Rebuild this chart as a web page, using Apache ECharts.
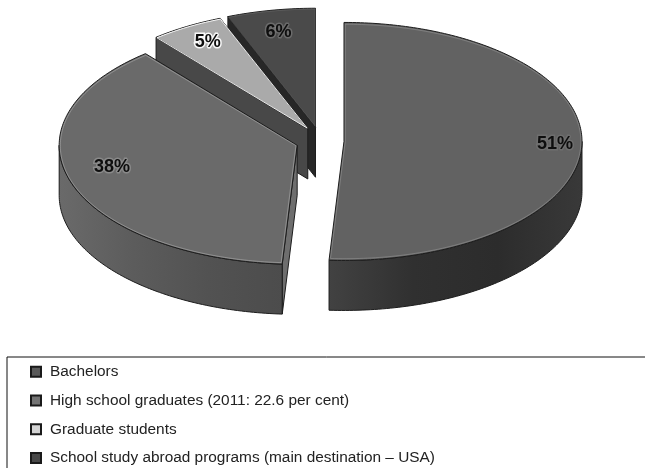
<!DOCTYPE html>
<html>
<head>
<meta charset="utf-8">
<style>html,body{margin:0;padding:0;background:#fff}#chart{width:645px;height:468px}</style>
<script src="https://cdn.jsdelivr.net/npm/echarts@6/dist/echarts.min.js"></script>
</head>
<body>
<div id="chart"></div>
<script>
// Composition of students, in per cent, clockwise from twelve o'clock.
const categories = [
  'Bachelors',
  'High school graduates (2011: 22.6 per cent)',
  'Graduate students',
  'School study abroad programs (main destination – USA)'
];
const shares = [51, 38, 5, 6];

// Appearance of each slice, in the same order as the categories.
const topFill = ['#626262', '#6a6a6a', '#aaaaaa', '#4a4a4a'];
const cutFill = ['#3a3a3a', '#6e6e6e', '#484848', '#272727'];
const wallStops = [
  ['#424242', '#303030', '#2c2c2c', '#393939'],
  ['#6a6a6a', '#5c5c5c', '#525252', '#4c4c4c'],
  ['#555555', '#555555', '#555555', '#555555'],
  ['#333333', '#333333', '#333333', '#333333']
];
const rimColor = ['rgba(170,170,170,.4)', 'rgba(190,190,190,.45)', 'rgba(255,255,255,.9)', 'rgba(130,130,130,.35)'];
const haloColor = ['rgba(130,130,130,.4)', 'rgba(170,170,170,.5)', 'rgba(255,255,255,.9)', 'rgba(140,140,140,.5)'];
const swatchFill = ['#5a5a5a', '#747474', '#d4d4d4', '#484848'];
const labelRadius = [0.887, 0.818, 0.825, 0.83];
const labelLift = [-1, -8, -2, 2];

// Projection of the tilted disc.
const disc = { cx: 320, cy: 141, rx: 238, ry: 119, depth: 50, pullX: 24, pullY: 14 };
const total = shares.reduce((a, b) => a + b, 0);

function sliceAngles(index) {
  const before = shares.slice(0, index).reduce((a, b) => a + b, 0);
  return [before / total * Math.PI * 2, (before + shares[index]) / total * Math.PI * 2];
}

function renderSlice(index) {
  return function (params, api) {
    const value = api.value(0);
    const [a0, a1] = sliceAngles(index);
    const mid = (a0 + a1) / 2;
    const ox = disc.cx + disc.pullX * Math.sin(mid);
    const oy = disc.cy - disc.pullY * Math.cos(mid);
    const at = (a, k) => [ox + disc.rx * k * Math.sin(a), oy - disc.ry * k * Math.cos(a)];
    const sample = (from, to) => {
      const pts = [];
      const steps = Math.max(8, Math.ceil((to - from) / (Math.PI / 180)));
      for (let i = 0; i <= steps; i++) pts.push(at(from + (to - from) * i / steps, 1));
      return pts;
    };

    const arc = sample(a0, a1);
    const down = p => [p[0], p[1] + disc.depth];
    const apex = [ox, oy];
    const first = arc[0];
    const last = arc[arc.length - 1];
    const wedge = [apex].concat(arc);

    // Slightly smaller copy of the top face, stroked as its bright bevel.
    const c = at(mid, 0.55);
    const inner = wedge.map(p => [c[0] + (p[0] - c[0]) * 0.99, c[1] + (p[1] - c[1]) * 0.985]);

    const edge = { stroke: '#1d1d1d', lineWidth: 1, lineJoin: 'round' };
    const children = [];

    // Only faces turned towards the viewer are drawn.
    if (Math.sin(a0) < -1e-6) {
      children.push({ type: 'polygon', shape: { points: [apex, first, down(first), down(apex)] }, style: Object.assign({ fill: cutFill[index] }, edge) });
    }
    if (Math.sin(a1) > 1e-6) {
      children.push({ type: 'polygon', shape: { points: [apex, last, down(last), down(apex)] }, style: Object.assign({ fill: cutFill[index] }, edge) });
    }
    const w0 = Math.max(a0, Math.PI / 2);
    const w1 = Math.min(a1, Math.PI * 1.5);
    if (w1 > w0) {
      const front = sample(w0, w1);
      const stops = wallStops[index];
      children.push({
        type: 'polygon',
        shape: { points: front.concat(front.slice().reverse().map(down)) },
        style: Object.assign({
          fill: {
            type: 'linear', x: 0, y: 0, x2: 1, y2: 0,
            colorStops: stops.map((color, i) => ({ offset: i / (stops.length - 1), color }))
          }
        }, edge)
      });
    }
    children.push({ type: 'polygon', shape: { points: wedge }, style: Object.assign({ fill: topFill[index] }, edge) });
    children.push({ type: 'polygon', shape: { points: inner }, style: { fill: 'none', stroke: rimColor[index], lineWidth: 1 } });

    const lp = at(mid, labelRadius[index]);
    const font = 'bold 18px "Liberation Sans", Arial, sans-serif';
    const textBase = { text: value + '%', align: 'center', verticalAlign: 'middle', font };
    children.push({
      type: 'text', x: lp[0], y: lp[1] + labelLift[index],
      style: Object.assign({ fill: 'rgba(0,0,0,0)', stroke: haloColor[index], lineWidth: 3 }, textBase)
    });
    children.push({
      type: 'text', x: lp[0], y: lp[1] + labelLift[index],
      style: Object.assign({ fill: '#0e0e0e' }, textBase)
    });

    return { type: 'group', children };
  };
}

const chart = echarts.init(document.getElementById('chart'), null, { renderer: 'canvas' });
chart.setOption({
  animation: false,
  backgroundColor: '#ffffff',
  legend: {
    orient: 'vertical',
    left: 7,
    top: 357,
    height: 300,
    padding: [6, 400, 60, 23],
    borderColor: '#111111',
    borderWidth: 1,
    itemWidth: 10,
    itemHeight: 10,
    itemGap: 11,
    selectedMode: false,
    textStyle: { fontFamily: '"Liberation Sans", Arial, sans-serif', fontSize: 15.4, lineHeight: 17.7, color: '#222222', padding: [0, 0, 0, 4] },
    data: categories.map((name, i) => ({
      name, icon: 'rect',
      itemStyle: { color: swatchFill[i], borderColor: '#1a1a1a', borderWidth: 2 }
    }))
  },
  // The front slices overlap the back ones, so they get the higher z.
  series: categories.map((name, i) => ({
    type: 'custom',
    name,
    coordinateSystem: 'none',
    silent: true,
    z: 5 - i,
    renderItem: renderSlice(i),
    data: [[shares[i]]]
  }))
});
</script>
</body>
</html>
